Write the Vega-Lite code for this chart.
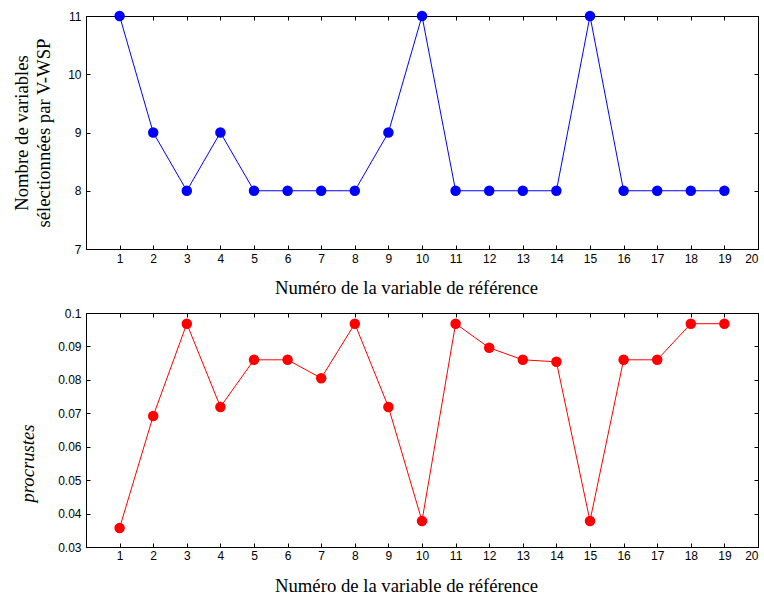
{
  "$schema": "https://vega.github.io/schema/vega-lite/v6.json",
  "background": "white",
  "padding": {"left": 12, "top": 9, "right": 5, "bottom": 5},
  "spacing": 64,
  "bounds": "flush",
  "data": {"values": [
    {"ref": 1, "nb": 11, "proc": 0.0357},
    {"ref": 2, "nb": 9, "proc": 0.0692},
    {"ref": 3, "nb": 8, "proc": 0.0968},
    {"ref": 4, "nb": 9, "proc": 0.0719},
    {"ref": 5, "nb": 8, "proc": 0.0860},
    {"ref": 6, "nb": 8, "proc": 0.0860},
    {"ref": 7, "nb": 8, "proc": 0.0805},
    {"ref": 8, "nb": 8, "proc": 0.0968},
    {"ref": 9, "nb": 9, "proc": 0.0719},
    {"ref": 10, "nb": 11, "proc": 0.0378},
    {"ref": 11, "nb": 8, "proc": 0.0968},
    {"ref": 12, "nb": 8, "proc": 0.0896},
    {"ref": 13, "nb": 8, "proc": 0.0860},
    {"ref": 14, "nb": 8, "proc": 0.0854},
    {"ref": 15, "nb": 11, "proc": 0.0378},
    {"ref": 16, "nb": 8, "proc": 0.0860},
    {"ref": 17, "nb": 8, "proc": 0.0860},
    {"ref": 18, "nb": 8, "proc": 0.0968},
    {"ref": 19, "nb": 8, "proc": 0.0968}
  ]},
  "config": {
    "view": {"stroke": "black", "strokeWidth": 1},
    "axis": {
      "domainColor": "black",
      "tickColor": "black",
      "tickSize": -4,
      "grid": false,
      "labelFont": "Liberation Sans",
      "labelFontSize": 12,
      "labelColor": "black",
      "titleFont": "Liberation Serif",
      "titleFontSize": 18.7,
      "titleFontWeight": "normal",
      "titleColor": "black"
    }
  },
  "vconcat": [
    {
      "width": 672,
      "height": 233,
      "layer": [
        {
          "mark": {"type": "line", "color": "#0000ff", "strokeWidth": 1},
          "encoding": {
            "x": {"field": "ref", "type": "quantitative", "scale": {"domain": [0, 20], "nice": false},
              "axis": {"orient": "bottom", "values": [1,2,3,4,5,6,7,8,9,10,11,12,13,14,15,16,17,18,19,20], "labelPadding": 8, "title": "Numéro de la variable de référence", "titlePadding": 14, "titleX": 320}},
            "y": {"field": "nb", "type": "quantitative", "scale": {"domain": [7, 11], "nice": false, "zero": false},
              "axis": {"orient": "left", "values": [7,8,9,10,11], "labelPadding": 9, "title": ["Nombre de variables", "sélectionnées par V-WSP"], "titleLineHeight": 22, "titlePadding": 14}}
          }
        },
        {
          "mark": {"type": "circle", "color": "#0000ff", "size": 110, "opacity": 1},
          "encoding": {
            "x": {"field": "ref", "type": "quantitative", "scale": {"domain": [0, 20], "nice": false},
              "axis": {"orient": "top", "values": [1,2,3,4,5,6,7,8,9,10,11,12,13,14,15,16,17,18,19,20], "labels": false, "title": null}},
            "y": {"field": "nb", "type": "quantitative", "scale": {"domain": [7, 11], "nice": false, "zero": false},
              "axis": {"orient": "right", "values": [7,8,9,10,11], "labels": false, "title": null}}
          }
        }
      ],
      "resolve": {"axis": {"x": "independent", "y": "independent"}}
    },
    {
      "width": 672,
      "height": 234,
      "layer": [
        {
          "mark": {"type": "line", "color": "#ff0000", "strokeWidth": 1},
          "encoding": {
            "x": {"field": "ref", "type": "quantitative", "scale": {"domain": [0, 20], "nice": false},
              "axis": {"orient": "bottom", "values": [1,2,3,4,5,6,7,8,9,10,11,12,13,14,15,16,17,18,19,20], "labelPadding": 7, "title": "Numéro de la variable de référence", "titlePadding": 15, "titleX": 320}},
            "y": {"field": "proc", "type": "quantitative", "scale": {"domain": [0.03, 0.1], "nice": false, "zero": false},
              "axis": {"orient": "left", "values": [0.03,0.04,0.05,0.06,0.07,0.08,0.09,0.1], "format": ".2~f", "labelPadding": 9, "title": "procrustes", "titleFontStyle": "italic", "titlePadding": 20, "titleY": 150}}
          }
        },
        {
          "mark": {"type": "circle", "color": "#ff0000", "size": 110, "opacity": 1},
          "encoding": {
            "x": {"field": "ref", "type": "quantitative", "scale": {"domain": [0, 20], "nice": false},
              "axis": {"orient": "top", "values": [1,2,3,4,5,6,7,8,9,10,11,12,13,14,15,16,17,18,19,20], "labels": false, "title": null}},
            "y": {"field": "proc", "type": "quantitative", "scale": {"domain": [0.03, 0.1], "nice": false, "zero": false},
              "axis": {"orient": "right", "values": [0.03,0.04,0.05,0.06,0.07,0.08,0.09,0.1], "labels": false, "title": null}}
          }
        }
      ],
      "resolve": {"axis": {"x": "independent", "y": "independent"}}
    }
  ]
}
